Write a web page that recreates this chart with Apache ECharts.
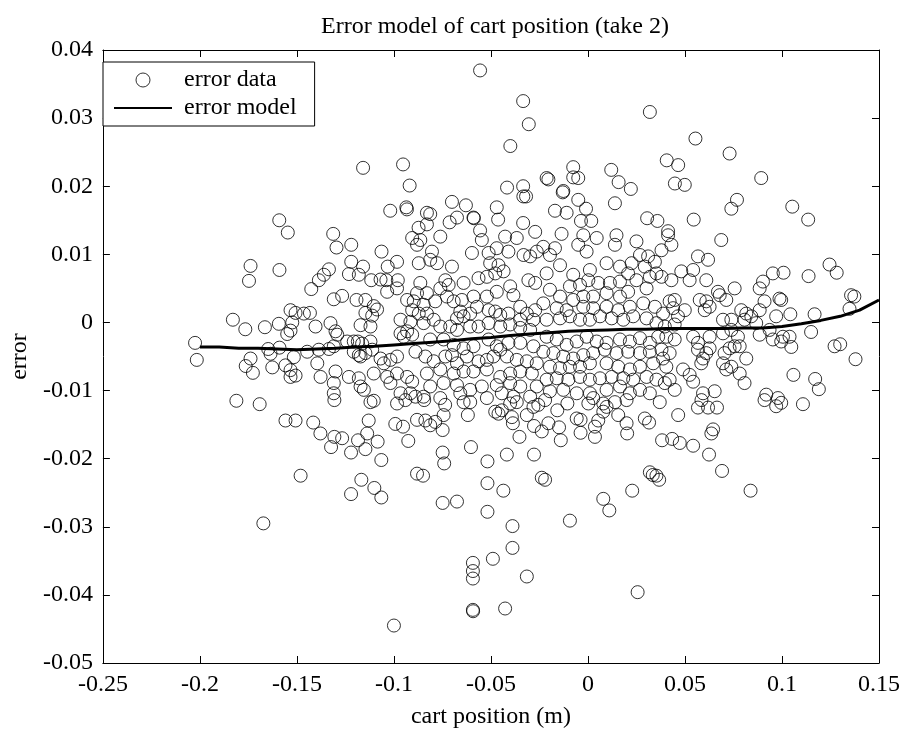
<!DOCTYPE html>
<html>
<head>
<meta charset="utf-8">
<title>Error model of cart position</title>
<script src="https://cdn.jsdelivr.net/npm/echarts@6/dist/echarts.min.js"></script>
<style>
  html, body { margin: 0; padding: 0; background: #fff; }
  #chart { width: 906px; height: 736px; }
</style>
</head>
<body>
<div id="chart"></div>
<script>
// Axis ranges and tick steps
const xRange = [-0.25, 0.15];
const xStep = 0.05;
const yRange = [-0.05, 0.04];
const yStep = 0.01;

// Measured (cart position, error) samples
const errorSamples = [
  [-0.1159,0.0227],[-0.0953,0.0232],[-0.0919,0.0201],[-0.1019,0.0164],[-0.0936,0.0169],[-0.0933,0.0166],[-0.083,0.0161],[-0.1591,0.0150],[-0.1547,0.0132],[-0.0873,0.0139],[-0.083,0.0144],
  [-0.0556,0.0370],[-0.0334,0.0325],[-0.0305,0.0291],[-0.040,0.0259],[0.0319,0.0309],[0.0406,0.0238],[0.0465,0.0231],[0.0448,0.0204],[-0.0076,0.0228],[-0.0076,0.0213],[-0.005,0.0212],[0.012,0.0224],[0.0158,0.0206],[0.0221,0.0196],[0.0139,0.0175],[-0.0213,0.0212],[-0.0204,0.021],[-0.0417,0.0198],[-0.0334,0.0200],[-0.0333,0.0185],[-0.0319,0.0185],[-0.0127,0.0193],[-0.013,0.0191],[-0.005,0.0180],[-0.001,0.0167],[-0.017,0.0164],[-0.011,0.0161],[-0.0036,0.0149],[0.0017,0.0149],[-0.0334,0.0146],[-0.047,0.0169],[-0.0463,0.0151],[-0.0701,0.0177],[-0.0629,0.0172],[-0.059,0.0154],[-0.0588,0.0153],[-0.0675,0.0154],[-0.0713,0.0147],[-0.0813,0.0159],[-0.0556,0.0135],[0.0305,0.0153],[0.0358,0.0149],[0.0413,0.0134],
  [0.0554,0.0270],[0.0730,0.0248],[0.0499,0.0202],[0.0893,0.0212],[0.0768,0.018],[0.0739,0.0167],[0.1053,0.0170],[0.1135,0.0151],[0.0545,0.0151],
  [-0.1739,0.0083],[-0.1747,0.0061],[-0.159,0.0077],[-0.183,0.0004],[-0.1766,-0.001],[-0.1665,-0.0007],[-0.1593,-0.0002],[-0.1533,0.0018],[-0.1507,0.0014],[-0.1524,0.0000],[-0.1533,-0.0012],[-0.155,-0.0017],[-0.2025,-0.003],[-0.2016,-0.0055],[-0.1648,-0.0039],[-0.1636,-0.0046],[-0.159,-0.0037],[-0.1739,-0.0053],[-0.1764,-0.0064],[-0.1727,-0.0074],[-0.1627,-0.0066],[-0.1559,-0.0063],[-0.1533,-0.007],[-0.1533,-0.008],[-0.1507,-0.0078],[-0.1516,-0.0051],
  [-0.1812,-0.0115],[-0.1692,-0.012],[-0.1559,-0.0144],[-0.1507,-0.0144],[-0.1416,-0.0147],[-0.1379,-0.0163],[-0.1307,-0.0168],[-0.1267,-0.017],[-0.1324,-0.0183],[-0.1221,-0.0191],[-0.1185,-0.0173],[-0.1138,-0.0163],[-0.113,-0.0144],[-0.1147,-0.0186],[-0.1084,-0.0175],[-0.1065,-0.0202],[-0.1121,-0.0117],[-0.1104,-0.0115],[-0.0993,-0.0149],[-0.0953,-0.0153],[-0.0926,-0.0174],[-0.0984,-0.0119],[-0.0941,-0.0114],[-0.0881,-0.0143],[-0.0838,-0.0144],[-0.0813,-0.0151],[-0.0844,-0.0114],[-0.0881,-0.0222],[-0.085,-0.0225],[-0.1481,-0.0225],[-0.1168,-0.0231],[-0.1221,-0.0252],[-0.1101,-0.0243],[-0.1065,-0.0257],[-0.1673,-0.0295],[-0.1,-0.0445],[-0.1307,-0.0114],
  [-0.0603,-0.0183],[-0.0518,-0.0204],[-0.0418,-0.0194],[-0.0278,-0.0194],[-0.0749,-0.0191],[-0.0741,-0.0207],[-0.0518,-0.0236],[-0.0436,-0.0247],[-0.0238,-0.0228],[-0.0221,-0.0231],[-0.0749,-0.0265],[-0.0675,-0.0263],[-0.0518,-0.0278],[-0.0389,-0.0299],[-0.0093,-0.0291],[-0.0389,-0.0331],[-0.049,-0.0347],[-0.0593,-0.0353],[-0.0593,-0.0365],[-0.0593,-0.0376],[-0.0315,-0.0373],[-0.0593,-0.0422],[-0.0592,-0.0424],[-0.0427,-0.042],[0.0256,-0.0396],[0.0079,-0.0259],[0.011,-0.0276],[0.0228,-0.0247],[0.0319,-0.022],[0.0353,-0.0225],[0.0367,-0.0231],[0.0334,-0.0224],[0.0382,-0.0173],[0.0434,-0.0171],[0.0473,-0.0177],[0.0465,-0.0136],
  [-0.0619,-0.0136],[-0.0749,-0.0158],[-0.0744,-0.0136],[-0.0736,-0.0121],[-0.0787,-0.0146],[-0.0641,-0.0117],[-0.0607,-0.0117],[-0.0478,-0.0131],[-0.0461,-0.0134],[-0.0444,-0.0129],[-0.0387,-0.0148],[-0.0392,-0.0139],[-0.0353,-0.0168],[-0.0401,-0.0119],[-0.0367,-0.0117],[-0.0315,-0.0136],[-0.0281,-0.0124],[-0.0256,-0.0121],[-0.0278,-0.0152],[-0.0238,-0.016],[-0.0204,-0.0148],[-0.0149,-0.0154],[-0.014,-0.0173],[-0.0158,-0.0129],[-0.0106,-0.0119],[-0.0058,-0.0141],[-0.0038,-0.0143],[-0.0038,-0.0162],[0.0036,-0.0168],[0.0036,-0.0153],[0.0053,-0.0144],[0.0079,-0.0131],[0.0096,-0.0124],[0.0156,-0.0136],[0.0199,-0.0148],[0.0202,-0.0163],[0.0293,-0.0141],[0.0315,-0.0147],[0.037,-0.0117],[0.0002,-0.0119],[0.0079,-0.0119],[0.0139,-0.0117],
  [0.0567,-0.0125],[0.0619,-0.0125],[0.0665,-0.0125],[0.0585,-0.0114],[0.0645,-0.0157],[0.0636,-0.0163],[0.0542,-0.0181],[0.0624,-0.0194],[0.0691,-0.0218],[0.0838,-0.0247],[0.091,-0.0114],[0.097,-0.0123],[0.0996,-0.0118],[0.1108,-0.012],
  [0.1008,0.0073],[0.1137,0.0068],[0.1245,0.0085],[0.1282,0.0073],[0.1356,0.004],[0.1373,0.0038],[0.1348,0.002],[0.0996,0.0033],[0.1043,0.0012],[0.1168,0.0012],[0.115,-0.0014],[0.1005,-0.0021],[0.1039,-0.0021],[0.1048,-0.0036],[0.0996,-0.0028],[0.1271,-0.0035],[0.13,-0.0032],[0.1379,-0.0054],[0.1059,-0.0077],[0.1171,-0.0083],[0.119,-0.0098],
  [-0.1313,0.0130],[-0.1296,0.0110],[-0.1220,0.0114],[-0.1064,0.0104],[-0.0984,0.0089],[-0.1032,0.0082],[-0.1220,0.0089],[-0.1159,0.0082],[-0.1232,0.0071],[-0.1181,0.0070],[-0.1117,0.0062],[-0.1069,0.0063],[-0.1039,0.0062],[-0.0980,0.0062],[-0.0984,0.0050],[-0.1035,0.0045],[-0.1335,0.0078],[-0.1361,0.0070],[-0.1387,0.0062],[-0.1426,0.0049],[-0.1310,0.0034],[-0.1267,0.0039],[-0.1193,0.0033],[-0.1147,0.0033],[-0.1104,0.0024],[-0.1087,0.0019],[-0.1112,0.0010],[-0.1147,0.0014],[-0.1172,-0.0004],[-0.1121,-0.0006],[-0.1464,0.0013],[-0.1433,0.0014],[-0.1404,-0.0006],[-0.1327,-0.0001],[-0.1301,-0.0013],[-0.1292,-0.0018],[-0.1241,-0.0028],[-0.1207,-0.0028],[-0.1186,-0.0028],[-0.1164,-0.0031],[-0.1121,-0.0028],[-0.1112,-0.0040],[-0.1147,-0.0045],[-0.1181,-0.0048],[-0.1207,-0.0043],[-0.1310,-0.0035],[-0.1335,-0.0039],[-0.1387,-0.0040],[-0.1447,-0.0043],[-0.0906,0.0124],[-0.0881,0.0114],[-0.0932,0.0033],[-0.0898,0.0031],[-0.0906,0.0018],[-0.0872,0.0013],[-0.0966,-0.0016],[-0.0932,-0.0013],[-0.0906,-0.0018],[-0.0949,-0.0021],[-0.0889,-0.0043],[-0.1395,-0.0060],[-0.1378,-0.0080],[-0.1301,-0.0072],[-0.1310,-0.0089],[-0.1310,-0.0104],[-0.1232,-0.0080],[-0.1181,-0.0082],[-0.1172,-0.0094],[-0.1155,-0.0099],[-0.1104,-0.0075],[-0.1069,-0.0053],[-0.1052,-0.0060],[-0.1018,-0.0055],[-0.0984,-0.0050],[-0.1035,-0.0080],[-0.1018,-0.0089],[-0.0984,-0.0075],[-0.0932,-0.0080],[-0.0906,-0.0087],[-0.0966,-0.0104],[-0.0915,-0.0104],[-0.0889,-0.0109],[-0.1172,-0.0050],[-0.0966,0.0004],[-0.0915,0.0001],[-0.0881,0.0043],[-0.0872,0.0087],
  [-0.0864,0.0121],[-0.0804,0.0104],[-0.0761,0.0126],[-0.0813,0.0092],[-0.0778,0.0087],[-0.0701,0.0082],[-0.0598,0.0102],[-0.0547,0.0121],[-0.0512,0.0102],[-0.0470,0.0109],[-0.0427,0.0126],[-0.0367,0.0124],[-0.0410,0.0104],[-0.0332,0.0099],[-0.0298,0.0097],[-0.0264,0.0104],[-0.0272,0.0133],[-0.0504,0.0087],[-0.0461,0.0084],[-0.0478,0.0072],[-0.0435,0.0075],[-0.0521,0.0067],[-0.0564,0.0065],[-0.0641,0.0058],[-0.0735,0.0062],[-0.0718,0.0055],[-0.0761,0.0050],[-0.0864,0.0058],[-0.0830,0.0043],[-0.0307,0.0062],[-0.0272,0.0058],[-0.0401,0.0053],[-0.0384,0.0040],[-0.0470,0.0045],[-0.0521,0.0038],[-0.0590,0.0038],[-0.0650,0.0033],[-0.0692,0.0031],[-0.0727,0.0038],[-0.0787,0.0031],[-0.0847,0.0026],[-0.0658,0.0016],[-0.0675,0.0006],[-0.0641,0.0009],[-0.0607,0.0013],[-0.0572,0.0023],[-0.0512,0.0018],[-0.0478,0.0016],[-0.0452,0.0011],[-0.0410,0.0013],[-0.0349,0.0023],[-0.0315,0.0013],[-0.0272,0.0018],[-0.0281,0.0004],[-0.0349,0.0004],[-0.0830,0.0013],[-0.0847,-0.0001],[-0.0795,0.0004],[-0.0761,-0.0006],[-0.0710,-0.0006],[-0.0675,-0.0011],[-0.0607,-0.0006],[-0.0564,-0.0006],[-0.0512,-0.0001],[-0.0452,-0.0006],[-0.0401,-0.0003],[-0.0349,-0.0008],[-0.0298,-0.0011],[-0.0813,-0.0025],[-0.0744,-0.0025],[-0.0692,-0.0033],[-0.0641,-0.0038],[-0.0590,-0.0035],[-0.0512,-0.0025],[-0.0470,-0.0035],[-0.0452,-0.0040],[-0.0410,-0.0030],[-0.0349,-0.0030],[-0.0281,-0.0035],[-0.0838,-0.0050],[-0.0795,-0.0057],[-0.0735,-0.0050],[-0.0701,-0.0048],[-0.0675,-0.0060],[-0.0624,-0.0050],[-0.0564,-0.0057],[-0.0521,-0.0055],[-0.0487,-0.0050],[-0.0418,-0.0050],[-0.0367,-0.0055],[-0.0315,-0.0057],[-0.0264,-0.0060],[-0.0830,-0.0075],[-0.0761,-0.0069],[-0.0692,-0.0075],[-0.0641,-0.0072],[-0.0590,-0.0072],[-0.0521,-0.0069],[-0.0452,-0.0080],[-0.0401,-0.0075],[-0.0349,-0.0072],[-0.0289,-0.0075],[-0.0813,-0.0094],[-0.0744,-0.0089],[-0.0675,-0.0092],[-0.0658,-0.0104],[-0.0607,-0.0099],[-0.0547,-0.0094],[-0.0470,-0.0092],[-0.0444,-0.0104],[-0.0401,-0.0089],[-0.0349,-0.0094],[-0.0384,-0.0109],[-0.0298,-0.0109],[-0.0264,-0.0094],[-0.0847,-0.0109],[-0.0761,-0.0111],[-0.0521,-0.0111],
  [-0.0230,0.0111],[-0.0170,0.0109],[-0.0136,0.0130],[-0.0024,0.0128],[0.0045,0.0124],[-0.0007,0.0104],[-0.0050,0.0114],[0.0147,0.0128],[0.0139,0.0114],[0.0250,0.0119],[0.0268,0.0099],[0.0310,0.0097],[0.0345,0.0089],[0.0293,0.0082],[0.0225,0.0087],[0.0165,0.0082],[0.0096,0.0087],[-0.0144,0.0084],[-0.0196,0.0099],[-0.0213,0.0072],[-0.0076,0.0070],[0.0010,0.0077],[0.0002,0.0062],[-0.0041,0.0055],[-0.0093,0.0053],[0.0053,0.0058],[0.0113,0.0058],[0.0165,0.0060],[0.0207,0.0072],[0.0250,0.0062],[0.0319,0.0067],[0.0353,0.0072],[0.0302,0.0050],[0.0207,0.0045],[0.0165,0.0038],[0.0096,0.0043],[0.0027,0.0038],[-0.0024,0.0038],[-0.0076,0.0033],[-0.0144,0.0038],[-0.0196,0.0048],[-0.0230,0.0028],[-0.0161,0.0021],[-0.0110,0.0018],[-0.0024,0.0023],[0.0027,0.0021],[0.0096,0.0023],[0.0156,0.0018],[0.0216,0.0023],[0.0285,0.0028],[0.0345,0.0023],[-0.0213,0.0004],[-0.0144,0.0006],[-0.0093,0.0009],[-0.0041,0.0004],[0.0010,0.0004],[0.0062,0.0009],[0.0122,0.0006],[0.0182,0.0004],[0.0233,0.0009],[0.0302,0.0006],[0.0353,-0.0001],
  [-0.0213,-0.0021],[-0.0161,-0.0025],[-0.0110,-0.0033],[-0.0058,-0.0028],[-0.0007,-0.0021],[0.0045,-0.0028],[0.0096,-0.0030],[0.0165,-0.0025],[0.0216,-0.0028],[0.0268,-0.0023],[0.0319,-0.0030],[0.0362,-0.0021],[-0.0230,-0.0043],[-0.0178,-0.0045],[-0.0127,-0.0050],[-0.0076,-0.0053],[-0.0024,-0.0048],[0.0027,-0.0045],[0.0087,-0.0040],[0.0147,-0.0045],[0.0207,-0.0043],[0.0268,-0.0045],[0.0319,-0.0043],[-0.0196,-0.0065],[-0.0144,-0.0067],[-0.0093,-0.0065],[-0.0041,-0.0065],[0.0010,-0.0060],[0.0096,-0.0060],[0.0156,-0.0065],[0.0216,-0.0069],[0.0268,-0.0065],[0.0336,-0.0060],[-0.0213,-0.0084],[-0.0161,-0.0082],[-0.0101,-0.0084],[-0.0041,-0.0080],[0.0010,-0.0084],[0.0062,-0.0082],[0.0122,-0.0080],[0.0182,-0.0082],[0.0233,-0.0084],[0.0302,-0.0080],[0.0353,-0.0084],[-0.0196,-0.0101],[-0.0127,-0.0099],[-0.0058,-0.0104],[0.0010,-0.0104],[0.0096,-0.0099],[0.0165,-0.0094],[0.0216,-0.0104],[0.0268,-0.0099],[0.0319,-0.0104],[-0.0221,-0.0114],[0.0027,-0.0111],[0.0199,-0.0114],
  [0.0413,0.0128],[0.0430,0.0114],[0.0379,0.0106],[0.0687,0.0121],[0.0567,0.0097],[0.0619,0.0092],[0.0481,0.0075],[0.0542,0.0077],[0.0430,0.0062],[0.0379,0.0067],[0.0524,0.0062],[0.0610,0.0062],[0.0670,0.0045],[0.0679,0.0040],[0.0756,0.0050],[0.0713,0.0033],[0.0610,0.0031],[0.0627,0.0023],[0.0602,0.0018],[0.0576,0.0033],[0.0447,0.0033],[0.0421,0.0031],[0.0439,0.0021],[0.0387,0.0013],[0.0464,0.0009],[0.0499,0.0018],[0.0696,0.0004],[0.0739,0.0004],[0.0790,0.0018],[0.0816,0.0013],[0.0807,0.0004],[0.0842,0.0009],[0.0885,0.0018],[0.0910,0.0031],[0.0885,0.0050],[0.0902,0.0060],[0.0953,0.0072],[0.0987,0.0035],[0.0970,0.0009],[0.0867,-0.0001],[0.0936,-0.0011],
  [0.0396,-0.0006],[0.0447,-0.0003],[0.0404,-0.0021],[0.0447,-0.0025],[0.0542,-0.0021],[0.0567,-0.0030],[0.0627,-0.0021],[0.0696,-0.0016],[0.0739,-0.0011],[0.0773,-0.0021],[0.0730,-0.0038],[0.0704,-0.0045],[0.0756,-0.0035],[0.0782,-0.0035],[0.0567,-0.0040],[0.0610,-0.0045],[0.0627,-0.0038],[0.0593,-0.0053],[0.0584,-0.0060],[0.0379,-0.0040],[0.0421,-0.0045],[0.0387,-0.0053],[0.0816,-0.0053],[0.0885,-0.0018],[0.0953,-0.0025],[0.0404,-0.0065],[0.0490,-0.0069],[0.0421,-0.0084],[0.0524,-0.0077],[0.0542,-0.0087],[0.0696,-0.0060],[0.0713,-0.0069],[0.0739,-0.0065],[0.0782,-0.0075],[0.0807,-0.0089],[0.0396,-0.0089],[0.0447,-0.0099],[0.0593,-0.0104],[0.0653,-0.0101],[0.0919,-0.0106],[0.0979,-0.0111]
];

// Fitted error model, sampled along the cart position
const modelX = [-0.2,-0.19,-0.18,-0.17,-0.16,-0.15,-0.14,-0.13,-0.12,-0.11,-0.1,-0.09,-0.08,-0.07,-0.06,-0.05,-0.04,-0.03,-0.02,-0.01,0,0.01,0.02,0.03,0.04,0.05,0.06,0.07,0.08,0.09,0.1,0.11,0.12,0.13,0.14,0.15];
const modelY = [-0.0036,-0.0036,-0.0038,-0.0038,-0.0039,-0.0040,-0.0039,-0.0038,-0.0036,-0.0035,-0.0033,-0.0031,-0.0029,-0.0027,-0.0024,-0.0022,-0.0019,-0.0017,-0.0015,-0.0013,-0.0012,-0.0011,-0.0010,-0.0010,-0.0009,-0.0009,-0.0009,-0.0009,-0.0008,-0.0008,-0.0006,-0.0002,0.0003,0.0009,0.0018,0.0033];

const serif = "'Liberation Serif', 'Times New Roman', serif";
const fontSize = 24;
const circleStyle = { color: 'rgba(255,255,255,0)', borderColor: '#000', borderWidth: 1 };

function frameAxis(extra) {
  return Object.assign({
    type: 'value',
    axisLine: { show: true, onZero: false, lineStyle: { color: '#000', width: 1 } },
    axisTick: { show: true, inside: true, length: 7, lineStyle: { color: '#000' } },
    splitLine: { show: false },
    axisLabel: { show: false }
  }, extra);
}

const chart = echarts.init(document.getElementById('chart'), null, { renderer: 'canvas' });
chart.setOption({
  backgroundColor: '#fff',
  animation: false,
  title: {
    text: 'Error model of cart position (take 2)',
    left: 490,
    top: 10,
    textAlign: 'center',
    textStyle: { fontFamily: serif, fontSize: fontSize, fontWeight: 'normal', color: '#000' }
  },
  legend: {
    left: 103,
    top: 62,
    orient: 'vertical',
    backgroundColor: '#fff',
    borderColor: '#000',
    borderWidth: 1,
    borderRadius: 0,
    padding: [6, 18, 6, 10],
    itemGap: 4,
    itemWidth: 58,
    itemHeight: 14,
    textStyle: { fontFamily: serif, fontSize: fontSize, color: '#000', padding: [0, 0, 0, 7] },
    data: [
      { name: 'error data', itemStyle: circleStyle },
      { name: 'error model', itemStyle: { opacity: 0 } }
    ]
  },
  grid: { left: 101, right: 27, top: 50, bottom: 73, containLabel: false },
  xAxis: [
    frameAxis({
      min: xRange[0], max: xRange[1], interval: xStep, position: 'bottom',
      name: 'cart position (m)', nameLocation: 'middle', nameGap: 42,
      nameTextStyle: { fontFamily: serif, fontSize: fontSize, color: '#000' },
      axisLabel: { show: true, margin: 10, fontFamily: serif, fontSize: fontSize, color: '#000' }
    }),
    frameAxis({ min: xRange[0], max: xRange[1], interval: xStep, position: 'top' })
  ],
  yAxis: [
    frameAxis({
      min: yRange[0], max: yRange[1], interval: yStep, position: 'left',
      name: 'error', nameLocation: 'middle', nameGap: 66, nameRotate: 90,
      nameTextStyle: { fontFamily: serif, fontSize: fontSize, color: '#000' },
      axisLabel: { show: true, margin: 10, fontFamily: serif, fontSize: fontSize, color: '#000' }
    }),
    frameAxis({ min: yRange[0], max: yRange[1], interval: yStep, position: 'right' })
  ],
  series: [
    {
      name: 'error data',
      type: 'scatter',
      xAxisIndex: 0,
      yAxisIndex: 0,
      symbol: 'circle',
      symbolSize: 13,
      itemStyle: circleStyle,
      emphasis: { disabled: true },
      data: errorSamples,
      z: 2
    },
    {
      name: 'error model',
      type: 'line',
      xAxisIndex: 0,
      yAxisIndex: 0,
      symbol: 'none',
      lineStyle: { color: '#000', width: 3 },
      itemStyle: { color: '#000' },
      emphasis: { disabled: true },
      data: modelX.map((x, i) => [x, modelY[i]]),
      z: 3
    }
  ]
});
</script>
</body>
</html>
